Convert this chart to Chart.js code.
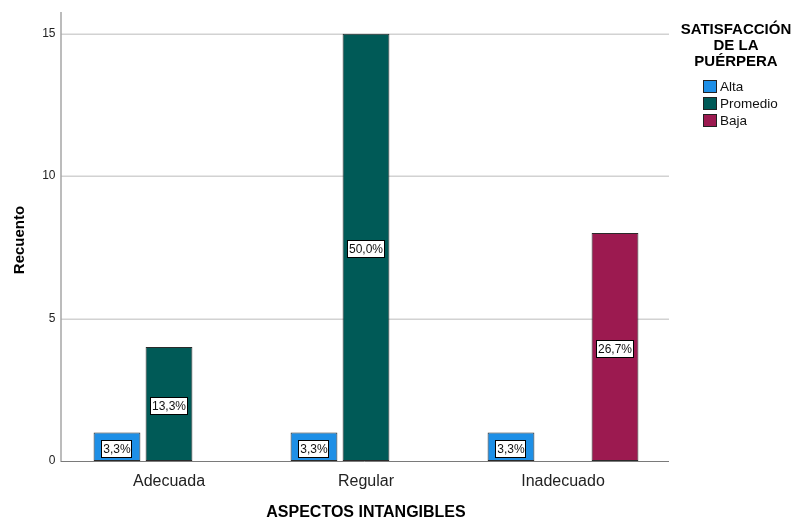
<!DOCTYPE html>
<html><head><meta charset="utf-8">
<script src="https://cdn.jsdelivr.net/npm/chart.js@4.4.1/dist/chart.umd.min.js"></script>
<style>html,body{margin:0;padding:0;background:#fff;}#wrap{width:808px;height:518px;position:relative;}</style>
</head><body><div id="wrap"><canvas id="c" width="808" height="518"></canvas></div>
<script>
const categories = ['Adecuada', 'Regular', 'Inadecuado'];
const seriesNames = ['Alta', 'Promedio', 'Baja'];
const alta = [1, 1, 1];
const promedio = [4, 15, null];
const baja = [null, null, 8];
const totalCount = 30;
const yTickValues = [0, 5, 10, 15];
const seriesColors = ['#1e8fe6', '#005a57', '#9c1a50'];
const xTitle = 'ASPECTOS INTANGIBLES';
const yTitle = 'Recuento';
const legendTitle = ['SATISFACCIÓN', 'DE LA', 'PUÉRPERA'];

const FONT = '"Liberation Sans", Arial, sans-serif';
const PLOT_L = 61, PLOT_R = 669;

function pct(v) { return (v / totalCount * 100).toFixed(1).replace('.', ',') + '%'; }

const decor = {
  id: 'decor',
  beforeDatasetsDraw(chart) {
    const ctx = chart.ctx, y = chart.scales.y, a = chart.chartArea;
    ctx.save();
    ctx.strokeStyle = '#d2d2d2'; ctx.lineWidth = 1.5;
    yTickValues.forEach(v => {
      if (v === 0) return;
      const py = Math.round(y.getPixelForValue(v)) + 0.25;
      ctx.beginPath(); ctx.moveTo(PLOT_L, py); ctx.lineTo(PLOT_R, py); ctx.stroke();
    });
    ctx.strokeStyle = '#a6a6a6'; ctx.lineWidth = 1.5;
    ctx.beginPath(); ctx.moveTo(PLOT_L, a.top); ctx.lineTo(PLOT_L, a.bottom); ctx.stroke();
    ctx.restore();
  },
  afterDatasetsDraw(chart) {
    const ctx = chart.ctx, a = chart.chartArea;
    ctx.save();
    ctx.strokeStyle = '#7a7a7a'; ctx.lineWidth = 1;
    ctx.beginPath(); ctx.moveTo(PLOT_L - 0.5, a.bottom + 0.5); ctx.lineTo(PLOT_R, a.bottom + 0.5); ctx.stroke();
    ctx.font = '12px ' + FONT;
    ctx.textAlign = 'center'; ctx.textBaseline = 'middle';
    chart.data.datasets.forEach((ds, di) => {
      const meta = chart.getDatasetMeta(di);
      meta.data.forEach((bar, i) => {
        const v = ds.data[i];
        if (v == null || v === 0) return;
        const t = pct(v);
        const w = ctx.measureText(t).width + 4;
        const h = 18;
        const cy = (bar.y + bar.base) / 2 + 2;
        const x0 = Math.round(bar.x - w / 2), y0 = Math.round(cy - h / 2);
        ctx.fillStyle = '#fff';
        ctx.fillRect(x0, y0, Math.round(w), h);
        ctx.strokeStyle = '#000'; ctx.lineWidth = 1;
        ctx.strokeRect(x0 + 0.5, y0 + 0.5, Math.round(w) - 1, h - 1);
        ctx.fillStyle = '#111';
        ctx.fillText(t, bar.x, cy + 0.5);
      });
    });
    ctx.restore();
  },
  afterDraw(chart) {
    const ctx = chart.ctx, a = chart.chartArea;
    ctx.save();
    ctx.fillStyle = '#000';
    ctx.font = 'bold 16px ' + FONT;
    ctx.textAlign = 'center'; ctx.textBaseline = 'alphabetic';
    ctx.fillText(xTitle, (a.left + a.right) / 2, 517);
    ctx.save();
    ctx.translate(24, 240);
    ctx.rotate(-Math.PI / 2);
    ctx.font = 'bold 15px ' + FONT;
    ctx.textAlign = 'center'; ctx.textBaseline = 'alphabetic';
    ctx.fillText(yTitle, 0, 0);
    ctx.restore();
    ctx.font = 'bold 15px ' + FONT;
    ctx.textAlign = 'center'; ctx.textBaseline = 'alphabetic';
    legendTitle.forEach((line, i) => ctx.fillText(line, 736, 34 + i * 16));
    ctx.font = '13.5px ' + FONT;
    ctx.textAlign = 'left'; ctx.textBaseline = 'middle';
    seriesNames.forEach((name, i) => {
      const by = 80 + i * 17;
      ctx.fillStyle = seriesColors[i];
      ctx.fillRect(703, by, 14, 13);
      ctx.strokeStyle = '#222'; ctx.lineWidth = 1;
      ctx.strokeRect(703.5, by + 0.5, 13, 12);
      ctx.fillStyle = '#111';
      ctx.fillText(name, 720, by + 7);
    });
    ctx.restore();
  }
};

const datasets = [alta, promedio, baja].map((d, i) => ({
  label: seriesNames[i],
  data: d,
  backgroundColor: seriesColors[i],
  borderColor: '#2a2a2a',
  borderWidth: 1,
  borderSkipped: false,
  categoryPercentage: 0.792,
  barPercentage: 0.9
}));

new Chart(document.getElementById('c'), {
  type: 'bar',
  data: { labels: categories, datasets },
  options: {
    responsive: false,
    animation: false,
    devicePixelRatio: 1,
    layout: { padding: { top: 12, right: 146.5, left: 0, bottom: 0 } },
    plugins: { legend: { display: false }, tooltip: { enabled: false } },
    scales: {
      x: {
        grid: { display: false, drawTicks: false },
        border: { display: false },
        ticks: { font: { family: FONT, size: 16 }, color: '#222', padding: 11 },
        afterFit(s) { s.height = 57; s.paddingLeft = 0; s.paddingRight = 0; }
      },
      y: {
        min: 0, max: 15.76,
        grid: { display: false, drawTicks: false },
        border: { display: false },
        ticks: { font: { family: FONT, size: 12 }, color: '#222', padding: 15 },
        afterBuildTicks(s) { s.ticks = yTickValues.map(v => ({ value: v })); },
        afterFit(s) { s.width = 70.5; s.paddingTop = 0; s.paddingBottom = 0; }
      }
    }
  },
  plugins: [decor]
});
</script>
</body></html>
